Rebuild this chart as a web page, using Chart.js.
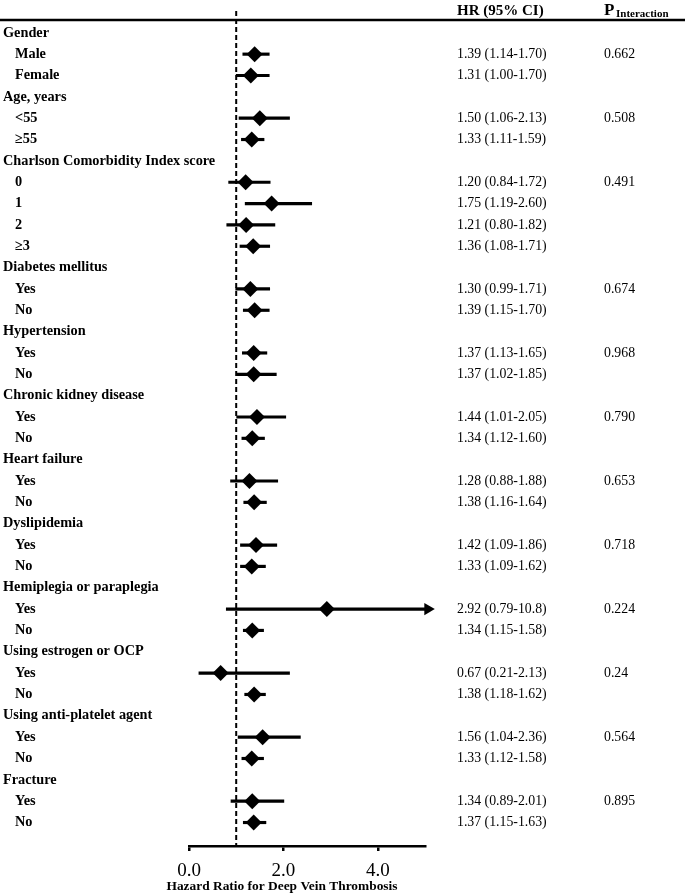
<!DOCTYPE html>
<html>
<head>
<meta charset="utf-8">
<script src="https://cdn.jsdelivr.net/npm/chart.js@4"></script>
<style>
  html, body { margin: 0; padding: 0; background: #fff; }
  #wrap { width: 685px; height: 896px; }
</style>
</head>
<body>
<div id="wrap"><canvas id="forest"></canvas></div>
<script>
// Rows, top to bottom (null = group heading)
const rowLabels = ['Gender', 'Male', 'Female', 'Age, years', '<55', '≥55',
  'Charlson Comorbidity Index score', '0', '1', '2', '≥3',
  'Diabetes mellitus', 'Yes', 'No', 'Hypertension', 'Yes', 'No',
  'Chronic kidney disease', 'Yes', 'No', 'Heart failure', 'Yes', 'No',
  'Dyslipidemia', 'Yes', 'No', 'Hemiplegia or paraplegia', 'Yes', 'No',
  'Using estrogen or OCP', 'Yes', 'No', 'Using anti-platelet agent', 'Yes', 'No',
  'Fracture', 'Yes', 'No'];
const hr = [null, 1.39, 1.31, null, 1.50, 1.33, null, 1.20, 1.75, 1.21, 1.36,
  null, 1.30, 1.39, null, 1.37, 1.37, null, 1.44, 1.34, null, 1.28, 1.38,
  null, 1.42, 1.33, null, 2.92, 1.34, null, 0.67, 1.38, null, 1.56, 1.33,
  null, 1.34, 1.37];
const ciLow = [null, 1.14, 1.00, null, 1.06, 1.11, null, 0.84, 1.19, 0.80, 1.08,
  null, 0.99, 1.15, null, 1.13, 1.02, null, 1.01, 1.12, null, 0.88, 1.16,
  null, 1.09, 1.09, null, 0.79, 1.15, null, 0.21, 1.18, null, 1.04, 1.12,
  null, 0.89, 1.15];
const ciHigh = [null, 1.70, 1.70, null, 2.13, 1.59, null, 1.72, 2.60, 1.82, 1.71,
  null, 1.71, 1.70, null, 1.65, 1.85, null, 2.05, 1.60, null, 1.88, 1.64,
  null, 1.86, 1.62, null, 10.8, 1.58, null, 2.13, 1.62, null, 2.36, 1.58,
  null, 2.01, 1.63];
const pInteraction = [null, '0.662', null, null, '0.508', null, null, '0.491', null, null, null,
  null, '0.674', null, null, '0.968', null, null, '0.790', null, null, '0.653', null,
  null, '0.718', null, null, '0.224', null, null, '0.24', null, null, '0.564', null,
  null, '0.895', null];
const xTicks = [0, 2, 4];
const xMax = 5;
const refLine = 1;
const xTitle = 'Hazard Ratio for Deep Vein Thrombosis';

const SERIF = '"Liberation Serif", "Times New Roman", serif';

function fmt(v) {
  return v >= 10 ? v.toFixed(1) : v.toFixed(2);
}

const ciData = [];
const hrData = [];
const arrowData = [];
hr.forEach(function(v, i) {
  if (v === null) return;
  ciData.push({ x: [ciLow[i], Math.min(ciHigh[i], xMax)], y: i });
  hrData.push({ x: v, y: i });
  if (ciHigh[i] > xMax) arrowData.push({ x: xMax + 0.06, y: i });
});

// texte, ligne du haut et ligne pointillée
const tablePlugin = {
  id: 'table',
  afterDatasetsDraw(chart) {
    const ctx = chart.ctx;
    const xs = chart.scales.x;
    const ys = chart.scales.y;
    ctx.save();

    // top rule
    ctx.strokeStyle = '#000';
    ctx.lineWidth = 2.5;
    ctx.beginPath();
    ctx.moveTo(0, chart.chartArea.top);
    ctx.lineTo(chart.width, chart.chartArea.top);
    ctx.stroke();

    // reference line at HR = 1
    const xr = xs.getPixelForValue(refLine);
    ctx.lineWidth = 2;
    ctx.setLineDash([5, 3]);
    ctx.beginPath();
    ctx.moveTo(xr, 11);
    ctx.lineTo(xr, chart.chartArea.bottom);
    ctx.stroke();
    ctx.setLineDash([]);

    // headers
    ctx.fillStyle = '#000';
    ctx.textBaseline = 'alphabetic';
    ctx.font = 'bold 15px ' + SERIF;
    ctx.fillText('HR (95% CI)', 457, 15);
    ctx.font = 'bold 17px ' + SERIF;
    ctx.fillText('P', 604, 15);
    ctx.font = 'bold 11px ' + SERIF;
    ctx.fillText('Interaction', 616, 17);

    // rows
    ctx.textBaseline = 'middle';
    rowLabels.forEach(function(lab, i) {
      const y = ys.getPixelForValue(i);
      ctx.font = 'bold 14.3px ' + SERIF;
      ctx.fillText(lab, hr[i] === null ? 3 : 15, y);
      if (hr[i] !== null) {
        ctx.font = '13.8px ' + SERIF;
        ctx.fillText(fmt(hr[i]) + ' (' + fmt(ciLow[i]) + '-' + fmt(ciHigh[i]) + ')', 457, y);
        if (pInteraction[i]) ctx.fillText(pInteraction[i], 604, y);
      }
    });

    // axis title (sits a bit left of the axis centre in the original)
    ctx.font = 'bold 13.4px ' + SERIF;
    ctx.textAlign = 'center';
    ctx.fillText(xTitle, 282, 887);
    ctx.restore();
  }
};

const ctx = document.getElementById('forest').getContext('2d');
new Chart(ctx, {
  type: 'bar',
  data: {
    datasets: [{
      type: 'bar',
      data: ciData,
      backgroundColor: '#000',
      borderWidth: 0,
      barThickness: 2.5,
      order: 2
    }, {
      type: 'scatter',
      data: hrData,
      pointStyle: 'rectRot',
      pointRadius: 8,
      pointHoverRadius: 8,
      backgroundColor: '#000',
      borderColor: '#000',
      borderWidth: 0,
      order: 1
    }, {
      type: 'scatter',
      data: arrowData,
      pointStyle: 'triangle',
      rotation: 90,
      pointRadius: 7,
      backgroundColor: '#000',
      borderColor: '#000',
      borderWidth: 0,
      clip: false,
      order: 1
    }]
  },
  options: {
    indexAxis: 'y',
    responsive: true,
    maintainAspectRatio: false,
    animation: false,
    layout: { padding: { left: 189, right: 260, top: 20, bottom: 0 } },
    plugins: {
      legend: { display: false },
      tooltip: { enabled: false }
    },
    scales: {
      y: {
        type: 'linear',
        display: false,
        offset: false,
        reverse: true,
        min: -0.6,
        max: 38.1
      },
      x: {
        type: 'linear',
        min: 0,
        max: xMax,
        afterBuildTicks: function(scale) {
          scale.ticks = xTicks.map(function(v) { return { value: v }; });
        },
        afterFit: function(scale) {
          scale.height = 50;
        },
        border: { color: '#000', width: 2.5 },
        grid: {
          drawOnChartArea: false,
          color: '#000',
          lineWidth: 2.5,
          tickLength: 5
        },
        ticks: {
          color: '#000',
          padding: 9,
          font: { family: SERIF, size: 19 },
          callback: function(v) { return v.toFixed(1); }
        }
      }
    }
  },
  plugins: [tablePlugin]
});
</script>
</body>
</html>
